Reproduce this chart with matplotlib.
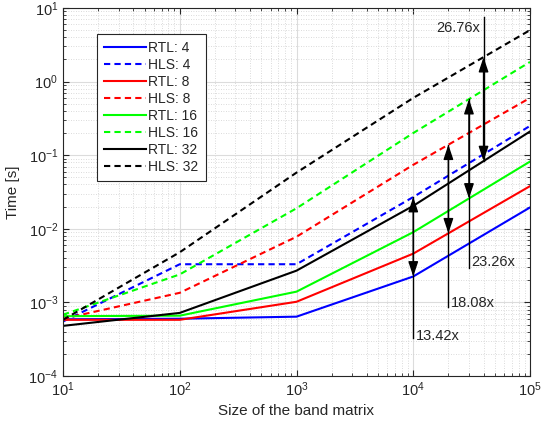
import numpy as np
import matplotlib
matplotlib.use("Agg")
import matplotlib.pyplot as plt
from matplotlib.ticker import LogLocator, NullFormatter

plt.rcParams['font.family'] = ['Liberation Sans', 'DejaVu Sans']
plt.rcParams['mathtext.fontset'] = 'custom'
plt.rcParams['mathtext.rm'] = 'Liberation Sans'
plt.rcParams['mathtext.it'] = 'Liberation Sans:italic'
plt.rcParams['mathtext.bf'] = 'Liberation Sans:bold'

# ---------------- data ----------------
sizes = [1e1, 1e2, 1e3, 1e4, 1e5]
rtl_4 = [5.9e-4, 6.0e-4, 6.4e-4, 2.25e-3, 0.0195]
hls_4 = [5.5e-4, 3.3e-3, 3.3e-3, 0.027, 0.25]
rtl_8 = [5.8e-4, 5.8e-4, 1.02e-3, 4.6e-3, 0.038]
hls_8 = [6.0e-4, 1.35e-3, 7.8e-3, 0.074, 0.6]
rtl_16 = [6.5e-4, 6.6e-4, 1.4e-3, 9.0e-3, 0.082]
hls_16 = [6.8e-4, 2.4e-3, 0.019, 0.2, 1.85]
rtl_32 = [4.8e-4, 7.2e-4, 2.7e-3, 0.0205, 0.21]
hls_32 = [5.8e-4, 4.8e-3, 0.058, 0.6, 5.0]

series_labels = ['RTL: 4', 'HLS: 4', 'RTL: 8', 'HLS: 8',
                 'RTL: 16', 'HLS: 16', 'RTL: 32', 'HLS: 32']

# speed-up annotations
ann_x = [1e4, 2e4, 3e4, 4e4]
ann_labels = ['13.42x', '18.08x', '23.26x', '26.76x']
ann_text_y = [3.5e-4, 9.7e-4, 3.5e-3, 5.35]
ann_line_end = [3.3e-4, 8.55e-4, 2.9e-3, 7.5]

# ---------------- figure ----------------
fig = plt.figure(figsize=(5.41, 4.30), dpi=100)
ax = fig.add_axes([63/541, 1-376/430, (530-63)/541, (376-8)/430])

colors = ['blue', 'red', (0, 1, 0), 'black']
rtl = [rtl_4, rtl_8, rtl_16, rtl_32]
hls = [hls_4, hls_8, hls_16, hls_32]
for i in range(4):
    ax.plot(sizes, rtl[i], color=colors[i], lw=1.5, ls='-', label=series_labels[2*i])
    ax.plot(sizes, hls[i], color=colors[i], lw=1.5, ls=(0, (3.0, 2.0)), label=series_labels[2*i+1])

ax.set_xscale('log')
ax.set_yscale('log')
ax.set_xlim(1e1, 1e5)
ax.set_ylim(1e-4, 1e1)

def interp_loglog(x, xs, ys):
    return 10 ** np.interp(np.log10(x), np.log10(xs), np.log10(ys))

ann_pairs = [(rtl_4, hls_4), (rtl_8, hls_8), (rtl_16, hls_16), (rtl_32, hls_32)]
for k in range(4):
    xa = ann_x[k]
    lo = interp_loglog(xa, sizes, ann_pairs[k][0])
    hi = interp_loglog(xa, sizes, ann_pairs[k][1])
    # connecting line to the label
    if ann_line_end[k] < lo:
        ax.plot([xa, xa], [ann_line_end[k], hi], color='black', lw=1.0, zorder=5)
    else:
        ax.plot([xa, xa], [lo, ann_line_end[k]], color='black', lw=1.0, zorder=5)
    ax.annotate('', xy=(xa, hi), xytext=(xa, lo),
                arrowprops=dict(arrowstyle='<|-|>,head_length=0.9,head_width=0.3',
                                color='black', lw=1.0, shrinkA=0, shrinkB=0),
                zorder=6)
    if k < 3:
        ax.text(xa * 1.05, ann_text_y[k], ann_labels[k], ha='left', va='center',
                fontsize=10.5, color='#262626')
    else:
        ax.text(xa / 1.07, ann_text_y[k], ann_labels[k], ha='right', va='center',
                fontsize=10.5, color='#262626')

# grid & ticks (MATLAB style)
ax.xaxis.set_major_locator(LogLocator(base=10, numticks=10))
ax.yaxis.set_major_locator(LogLocator(base=10, numticks=10))
ax.xaxis.set_minor_locator(LogLocator(base=10, subs=np.arange(2, 10), numticks=20))
ax.yaxis.set_minor_locator(LogLocator(base=10, subs=np.arange(2, 10), numticks=20))
ax.xaxis.set_minor_formatter(NullFormatter())
ax.yaxis.set_minor_formatter(NullFormatter())
ax.grid(True, which='major', color='#dcdcdc', lw=0.8, ls='-')
ax.grid(True, which='minor', color='#cfcfcf', lw=0.6, ls=(0, (1, 2)))
ax.set_axisbelow(True)
ax.tick_params(which='both', direction='in', top=True, right=True, colors='#262626',
               labelsize=10.5)
ax.tick_params(which='major', length=4)
ax.tick_params(which='minor', length=2.2)
for s in ax.spines.values():
    s.set_color('#262626')
    s.set_linewidth(0.8)

ax.set_xlabel('Size of the band matrix', fontsize=11, color='#262626', labelpad=3)
ax.set_ylabel('Time [s]', fontsize=11, color='#262626', labelpad=6)

leg = ax.legend(loc='upper left', bbox_to_anchor=((97-63)/467, (376-34)/368),
                fontsize=10, handlelength=3.0, handletextpad=0.2, labelspacing=0.22,
                borderpad=0.5, fancybox=False, framealpha=1, edgecolor='#262626',
                borderaxespad=0)
leg.get_frame().set_linewidth(0.8)
for t in leg.get_texts():
    t.set_color('#262626')

fig.savefig('out.png', dpi=100)
